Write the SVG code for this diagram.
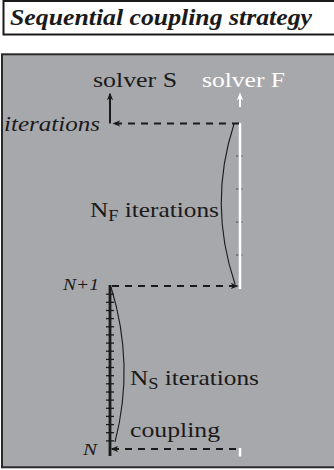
<svg xmlns="http://www.w3.org/2000/svg" width="334" height="470" viewBox="0 0 334 470">
<style>
.t{font-family:"Liberation Serif","Times New Roman",serif;font-size:22px;fill:#1a1a1a}
.it{font-style:italic}
.w{fill:#ffffff}
.dash{stroke:#1a1a1a;stroke-width:2;stroke-dasharray:7 6;fill:none}
.tick{stroke:#1a1a1a;stroke-width:1.3}
.ftick{stroke:#4a4a4a;stroke-width:1;stroke-dasharray:2.5 1.5}
.brace{stroke:#1a1a1a;stroke-width:1.1;fill:none}
</style>
<defs>
<marker id="ah" viewBox="0 0 10 8" refX="8" refY="4" markerWidth="8" markerHeight="7" orient="auto" markerUnits="userSpaceOnUse">
<path d="M0,0 L10,4 L0,8 L3,4 z" fill="#1a1a1a"/>
</marker>
<marker id="ahw" viewBox="0 0 10 8" refX="8" refY="4" markerWidth="8" markerHeight="7" orient="auto" markerUnits="userSpaceOnUse">
<path d="M0,0 L10,4 L0,8 L3,4 z" fill="#ffffff"/>
</marker>
</defs>
<rect width="334" height="470" fill="#ffffff"/>
<g id="title">
<rect x="3.5" y="1" width="340" height="33.5" fill="#ffffff" stroke="#1a1a1a" stroke-width="2"/>
<text x="10" y="24.5" class="t it" style="font-weight:bold;font-size:24px" textLength="302" lengthAdjust="spacingAndGlyphs">Sequential coupling strategy</text>
</g>
<g id="panel">
<rect x="2" y="54.3" width="340" height="413" fill="#a7a8ac" stroke="#2a2a2a" stroke-width="2"/>
</g>
<g id="solverS">
<text x="93" y="87" class="t" textLength="84" lengthAdjust="spacingAndGlyphs">solver S</text>
</g>
<g id="solverF">
<text x="202" y="87" class="t w" textLength="83" lengthAdjust="spacingAndGlyphs">solver F</text>
</g>
<g id="timelineF">
<line x1="236" y1="156" x2="244" y2="156" class="ftick"/>
<line x1="236" y1="189" x2="244" y2="189" class="ftick"/>
<line x1="236" y1="222" x2="244" y2="222" class="ftick"/>
<line x1="236" y1="255" x2="244" y2="255" class="ftick"/>
<line x1="240" y1="123" x2="240" y2="289" stroke="#ffffff" stroke-width="2.5"/>
<line x1="240" y1="448" x2="240" y2="456.5" stroke="#ffffff" stroke-width="2.5"/>
</g>
<g id="timelineS">
<line x1="110" y1="285" x2="110" y2="456" stroke="#1a1a1a" stroke-width="2.8"/>
<g class="tick">
<line x1="106" y1="294.2" x2="114" y2="294.2"/>
<line x1="106" y1="302.3" x2="114" y2="302.3"/>
<line x1="106" y1="310.5" x2="114" y2="310.5"/>
<line x1="106" y1="318.6" x2="114" y2="318.6"/>
<line x1="106" y1="326.8" x2="114" y2="326.8"/>
<line x1="106" y1="334.9" x2="114" y2="334.9"/>
<line x1="106" y1="343.1" x2="114" y2="343.1"/>
<line x1="106" y1="351.2" x2="114" y2="351.2"/>
<line x1="106" y1="359.4" x2="114" y2="359.4"/>
<line x1="106" y1="367.5" x2="114" y2="367.5"/>
<line x1="106" y1="375.7" x2="114" y2="375.7"/>
<line x1="106" y1="383.8" x2="114" y2="383.8"/>
<line x1="106" y1="392" x2="114" y2="392"/>
<line x1="106" y1="400.1" x2="114" y2="400.1"/>
<line x1="106" y1="408.3" x2="114" y2="408.3"/>
<line x1="106" y1="416.4" x2="114" y2="416.4"/>
<line x1="106" y1="424.6" x2="114" y2="424.6"/>
<line x1="106" y1="432.7" x2="114" y2="432.7"/>
<line x1="106" y1="440.9" x2="114" y2="440.9"/>
</g>
</g>
<g id="connectors">
<line x1="110" y1="123.5" x2="110" y2="94" stroke="#1a1a1a" stroke-width="2" marker-end="url(#ah)"/>
<line x1="240" y1="107" x2="240" y2="94" stroke="#ffffff" stroke-width="2" marker-end="url(#ahw)"/>
<line x1="239" y1="123.5" x2="114" y2="123.5" class="dash" marker-end="url(#ah)"/>
<line x1="112" y1="286" x2="237" y2="286" class="dash" marker-end="url(#ah)"/>
<line x1="236" y1="449" x2="112" y2="449" class="dash" marker-end="url(#ah)"/>
<path d="M234,124 Q208,204 235,284" class="brace"/>
<path d="M111,287 Q135,365 115,442" class="brace"/>
</g>
<g id="labels">
<text x="4" y="131" class="t it" textLength="96" lengthAdjust="spacingAndGlyphs">iterations</text>
<text x="63" y="290" class="t it" style="font-size:17px" textLength="36" lengthAdjust="spacingAndGlyphs">N+1</text>
<text x="83" y="455" class="t it" style="font-size:17px" textLength="14" lengthAdjust="spacingAndGlyphs">N</text>
<g transform="translate(90,217) scale(1.15,1)"><text x="0" y="0" class="t">N<tspan dy="4" style="font-size:16px">F</tspan><tspan dy="-4"> iterations</tspan></text></g>
<g transform="translate(130,385) scale(1.15,1)"><text x="0" y="0" class="t">N<tspan dy="4" style="font-size:16px">S</tspan><tspan dy="-4"> iterations</tspan></text></g>
<text x="130" y="437" class="t" textLength="90" lengthAdjust="spacingAndGlyphs">coupling</text>
</g>
</svg>
